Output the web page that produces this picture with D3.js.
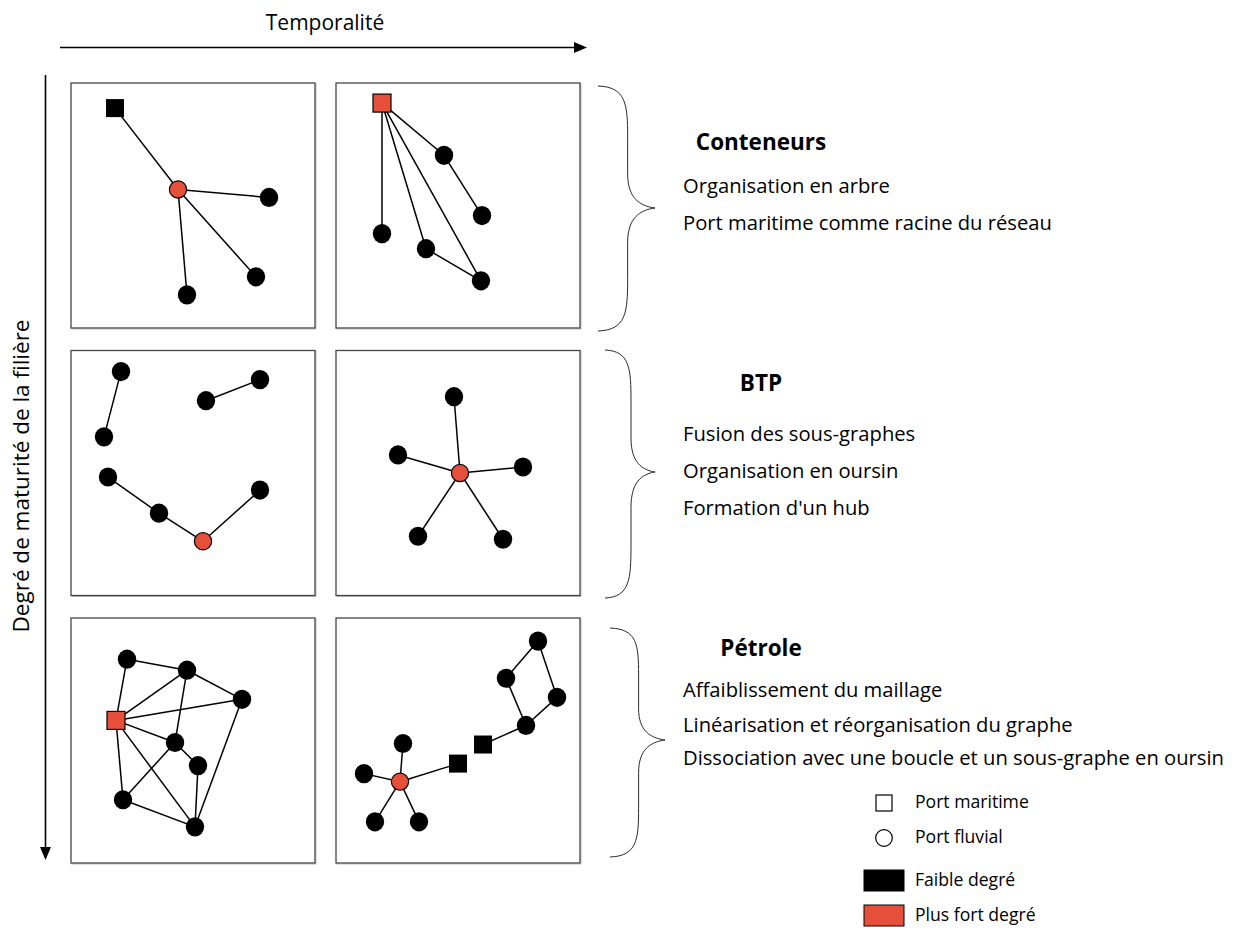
<!DOCTYPE html>
<html>
<head>
<meta charset="utf-8">
<script src="https://cdn.jsdelivr.net/npm/d3@7"></script>
<style>
  html, body { margin: 0; padding: 0; background: #fff; }
  svg { display: block; }
  text { font-family: "Open Sans", "Noto Sans", sans-serif; fill: #000; }
</style>
</head>
<body>
<div id="chart"></div>
<script>
// ---------- DATA ----------
const timeSteps = ["t1", "t2"];
const sectors = ["Conteneurs", "BTP", "Pétrole"];
const sectorNotes = [
  ["Organisation en arbre", "Port maritime comme racine du réseau"],
  ["Fusion des sous-graphes", "Organisation en oursin", "Formation d'un hub"],
  ["Affaiblissement du maillage", "Linéarisation et réorganisation du graphe",
   "Dissociation avec une boucle et un sous-graphe en oursin"]
];
const xAxisLabel = "Temporalité";
const yAxisLabel = "Degré de maturité de la filière";

// node = [x, y, type (sq = port maritime, ci = port fluvial), degree (hi / lo)]
// positions in panel units (0..244)
const nodesConteneursT1 = [[44,25,"sq","lo"],[107,106,"ci","hi"],[198,114,"ci","lo"],[185,193,"ci","lo"],[116,211,"ci","lo"]];
const edgesConteneursT1 = [[0,1],[1,2],[1,3],[1,4]];
const nodesConteneursT2 = [[46,20,"sq","hi"],[108,72,"ci","lo"],[146,132,"ci","lo"],[46,150,"ci","lo"],[90,165,"ci","lo"],[145,197,"ci","lo"]];
const edgesConteneursT2 = [[0,1],[1,2],[0,3],[0,4],[0,5],[4,5]];
const nodesBTPT1 = [[50,21,"ci","lo"],[33,86,"ci","lo"],[135,50,"ci","lo"],[189,29,"ci","lo"],[37,126,"ci","lo"],[88,162,"ci","lo"],[132,190,"ci","hi"],[189,139,"ci","lo"]];
const edgesBTPT1 = [[0,1],[2,3],[4,5],[5,6],[6,7]];
const nodesBTPT2 = [[124,122,"ci","hi"],[118,46,"ci","lo"],[62,104,"ci","lo"],[187,116,"ci","lo"],[82,185,"ci","lo"],[167,188,"ci","lo"]];
const edgesBTPT2 = [[0,1],[0,2],[0,3],[0,4],[0,5]];
const nodesPetroleT1 = [[45,102,"sq","hi"],[56,41,"ci","lo"],[116,52,"ci","lo"],[171,81,"ci","lo"],[104,124,"ci","lo"],[127,147,"ci","lo"],[52,181,"ci","lo"],[124,208,"ci","lo"]];
const edgesPetroleT1 = [[0,1],[1,2],[0,2],[2,3],[0,3],[0,4],[2,4],[4,5],[4,6],[0,6],[0,7],[6,7],[5,7],[3,7]];
const nodesPetroleT2 = [[64,163,"ci","hi"],[67,125,"ci","lo"],[28,155,"ci","lo"],[39,203,"ci","lo"],[83,203,"ci","lo"],[122,145,"sq","lo"],[147,126,"sq","lo"],[190,107,"ci","lo"],[221,79,"ci","lo"],[170,60,"ci","lo"],[202,23,"ci","lo"]];
const edgesPetroleT2 = [[0,1],[0,2],[0,3],[0,4],[0,5],[6,7],[7,8],[8,10],[10,9],[9,7]];

const panels = [
  {row: 0, col: 0, nodes: nodesConteneursT1, edges: edgesConteneursT1},
  {row: 0, col: 1, nodes: nodesConteneursT2, edges: edgesConteneursT2},
  {row: 1, col: 0, nodes: nodesBTPT1, edges: edgesBTPT1},
  {row: 1, col: 1, nodes: nodesBTPT2, edges: edgesBTPT2},
  {row: 2, col: 0, nodes: nodesPetroleT1, edges: edgesPetroleT1},
  {row: 2, col: 1, nodes: nodesPetroleT2, edges: edgesPetroleT2}
];

const legendShapes = ["Port maritime", "Port fluvial"];
const legendDegrees = ["Faible degré", "Plus fort degré"];

// ---------- STYLE / LAYOUT ----------
const W = 1236, H = 931;
const RED = "#e6503a";
const colorOf = d => d === "hi" ? RED : "#000";

const svg = d3.select("#chart").append("svg").attr("width", W).attr("height", H);

const col = d3.scaleBand().domain(d3.range(timeSteps.length)).range([71, 580]).paddingInner(21/265);
const row = d3.scaleBand().domain(d3.range(sectors.length)).range([83, 863]).paddingInner(22.5/267.5);

// axes arrows
const axes = svg.append("g");
axes.append("line").attr("x1", 60).attr("x2", 576).attr("y1", 47.5).attr("y2", 47.5)
  .attr("stroke", "#000").attr("stroke-width", 1.6);
axes.append("path").attr("d", "M587,47.5 L574,42 L574,53 Z").attr("fill", "#000");
axes.append("text").attr("x", 325).attr("y", 30).attr("text-anchor", "middle")
  .attr("font-size", 21).text(xAxisLabel);

axes.append("line").attr("x1", 45.5).attr("x2", 45.5).attr("y1", 75).attr("y2", 850)
  .attr("stroke", "#000").attr("stroke-width", 1.6);
axes.append("path").attr("d", "M45.5,860 L40,847 L51,847 Z").attr("fill", "#000");
axes.append("text").attr("transform", "translate(29,476) rotate(-90)")
  .attr("text-anchor", "middle").attr("font-size", 22.5).text(yAxisLabel);

// panels
panels.forEach(p => {
  const x0 = col(p.col), y0 = row(p.row);
  const sx = d3.scaleLinear().domain([0, 244]).range([x0, x0 + col.bandwidth()]);
  const sy = d3.scaleLinear().domain([0, 244]).range([y0, y0 + row.bandwidth()]);
  const g = svg.append("g");
  g.append("rect").attr("x", x0 + 1).attr("y", y0 + 1)
    .attr("width", col.bandwidth()).attr("height", row.bandwidth())
    .attr("fill", "none").attr("stroke", "#bdbdbd").attr("stroke-width", 1);
  g.append("rect").attr("x", x0).attr("y", y0)
    .attr("width", col.bandwidth()).attr("height", row.bandwidth())
    .attr("fill", "#fff").attr("stroke", "#454545").attr("stroke-width", 1.3);

  g.selectAll("line.edge").data(p.edges).join("line").attr("class", "edge")
    .attr("x1", e => sx(p.nodes[e[0]][0])).attr("y1", e => sy(p.nodes[e[0]][1]))
    .attr("x2", e => sx(p.nodes[e[1]][0])).attr("y2", e => sy(p.nodes[e[1]][1]))
    .attr("stroke", "#000").attr("stroke-width", 1.5);

  const circles = p.nodes.filter(n => n[2] === "ci");
  const squares = p.nodes.filter(n => n[2] === "sq");
  g.selectAll("ellipse.node").data(circles).join("ellipse").attr("class", "node")
    .attr("cx", n => sx(n[0])).attr("cy", n => sy(n[1]))
    .attr("rx", n => n[3] === "hi" ? 8.6 : 9.2).attr("ry", n => n[3] === "hi" ? 8.6 : 9.6)
    .attr("fill", n => colorOf(n[3]))
    .attr("stroke", "#000").attr("stroke-width", n => n[3] === "hi" ? 1.2 : 0);
  const S = 18;
  g.selectAll("rect.node").data(squares).join("rect").attr("class", "node")
    .attr("x", n => sx(n[0]) - S/2).attr("y", n => sy(n[1]) - S/2)
    .attr("width", S).attr("height", S)
    .attr("fill", n => colorOf(n[3]))
    .attr("stroke", "#000").attr("stroke-width", n => n[3] === "hi" ? 1.2 : 0);
});

// braces + text
const braceX0 = [598, 605, 610];
const braceTipX = [655, 655, 665];
const braceTop = [86, 350, 628];
const braceBot = [331, 598, 857];
const braceMid = [208, 472, 740];
const titleBase = [150, 391, 656];
const noteBase = [[193, 230], [441, 478, 515], [697, 732, 765]];

function bracePath(x0, xt, yt, ym, yb) {
  const xm = x0 + (xt - x0) * 0.52;
  const h1 = ym - yt, h2 = yb - ym;
  return `M${x0},${yt}` +
    ` C${x0 + (xm - x0) * 0.95},${yt + 1} ${xm},${yt + h1 * 0.15} ${xm},${yt + h1 * 0.42}` +
    ` L${xm},${ym - h1 * 0.28}` +
    ` C${xm},${ym - h1 * 0.08} ${xm + (xt - xm) * 0.45},${ym - 2} ${xt},${ym}` +
    ` C${xm + (xt - xm) * 0.45},${ym + 2} ${xm},${ym + h2 * 0.08} ${xm},${ym + h2 * 0.28}` +
    ` L${xm},${yb - h2 * 0.42}` +
    ` C${xm},${yb - h2 * 0.15} ${x0 + (xm - x0) * 0.95},${yb - 1} ${x0},${yb}`;
}

sectors.forEach((s, i) => {
  svg.append("path").attr("d", bracePath(braceX0[i], braceTipX[i], braceTop[i], braceMid[i], braceBot[i]))
    .attr("fill", "none").attr("stroke", "#2a2a2a").attr("stroke-width", 1);
  svg.append("text").attr("x", 761).attr("y", titleBase[i]).attr("text-anchor", "middle")
    .attr("font-size", 22.5).attr("font-weight", "bold").text(s);
  sectorNotes[i].forEach((t, j) => {
    svg.append("text").attr("x", 683).attr("y", noteBase[i][j]).attr("font-size", 20.2).text(t);
  });
});

// legend
const lg = svg.append("g");
lg.append("rect").attr("x", 876).attr("y", 795).attr("width", 16).attr("height", 16)
  .attr("fill", "#fff").attr("stroke", "#000").attr("stroke-width", 1.2);
lg.append("circle").attr("cx", 884).attr("cy", 838).attr("r", 8.3)
  .attr("fill", "#fff").attr("stroke", "#000").attr("stroke-width", 1.2);
lg.selectAll("text.shape").data(legendShapes).join("text").attr("class", "shape")
  .attr("x", 915).attr("y", (d, i) => 808 + i * 35).attr("font-size", 17.6).text(d => d);
lg.selectAll("rect.deg").data(legendDegrees).join("rect").attr("class", "deg")
  .attr("x", 864).attr("y", (d, i) => 870 + i * 35).attr("width", 40).attr("height", 21)
  .attr("fill", (d, i) => i === 0 ? "#000" : RED).attr("stroke", "#000").attr("stroke-width", 1);
lg.selectAll("text.deg").data(legendDegrees).join("text").attr("class", "deg")
  .attr("x", 915).attr("y", (d, i) => 886 + i * 35).attr("font-size", 17.6).text(d => d);
</script>
</body>
</html>
